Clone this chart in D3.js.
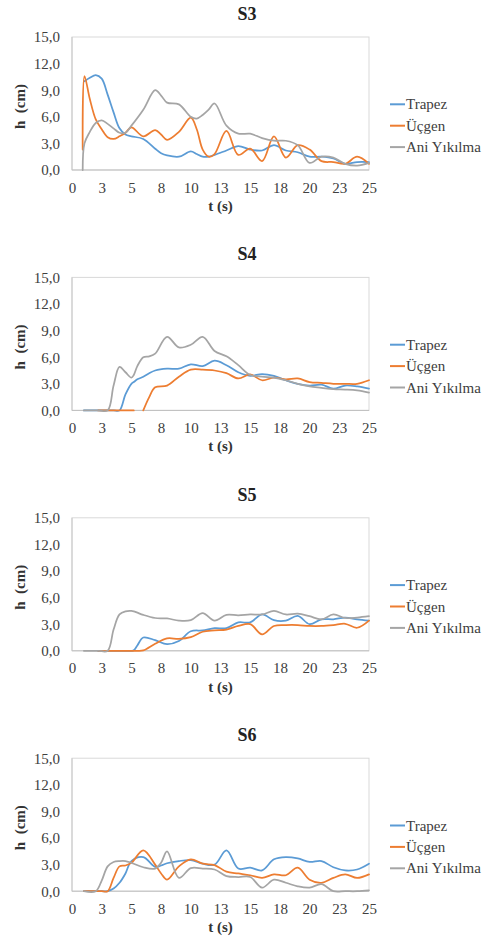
<!DOCTYPE html>
<html>
<head>
<meta charset="utf-8">
<script src="https://cdn.jsdelivr.net/npm/d3@7"></script>
<style>
  body { margin: 0; background: #fff; }
  svg { display: block; }
</style>
</head>
<body>
<div id="chart"></div>
<script>
// series names (legend)
const seriesNames = ["Trapez", "Üçgen", "Ani Yıkılma"];
const panelTitles = ["S3", "S4", "S5", "S6"];
const yTicks = [0, 3, 6, 9, 12, 15];
const xTicks = [0, 2.5, 5, 7.5, 10, 12.5, 15, 17.5, 20, 22.5, 25];

// S3
const timeS3 = [0.9, 1.05, 1.5, 2, 2.5, 3, 3.5, 4, 4.5, 5, 6, 7, 7.5, 8, 9, 10, 10.5, 11, 11.5, 12, 13, 14, 15, 16, 17, 18, 19, 20, 21, 22, 23, 24, 25];
const trapezS3 = [null, 10.0, 10.4, 10.7, 10.3, 8.5, 6.5, 4.7, 4.0, 3.8, 3.5, 2.4, 1.9, 1.65, 1.5, 2.1, 1.8, 1.5, 1.5, 1.7, 2.2, 2.7, 2.3, 2.2, 2.8, 2.2, 2.0, 1.5, 1.5, 1.3, 0.7, 0.9, 0.9];
const ucgenS3 = [2.3, 10.6, 8.0, 5.7, 4.6, 3.7, 3.5, 3.8, 4.2, 4.8, 3.8, 4.5, 4.0, 3.4, 4.3, 5.9, 4.6, 2.3, 1.5, 1.8, 4.4, 1.7, 2.4, 1.0, 3.8, 1.4, 2.8, 2.3, 1.0, 0.9, 0.7, 1.5, 0.7];
const aniS3 = [0, 3.0, 4.3, 5.3, 5.6, 5.2, 4.7, 4.2, 4.2, 5.0, 6.8, 9.0, 8.4, 7.6, 7.4, 6.0, 5.8, 6.2, 6.8, 7.5, 5.0, 4.1, 4.1, 3.6, 3.3, 3.3, 2.8, 0.8, 1.5, 1.4, 0.7, 0.5, 0.8];

// S4
const timeS4 = [1, 2.2, 3, 3.5, 4, 4.5, 5, 5.2, 5.5, 6, 6.5, 7, 8, 9, 10, 11, 12, 13, 14, 15, 16, 17, 18, 19, 20, 21, 22, 23, 24, 25];
const trapezS4 = [0, 0, 0, 0, 0, 1.8, 3.0, 3.2, 3.5, 3.8, 4.2, 4.5, 4.7, 4.7, 5.2, 5.0, 5.6, 5.1, 4.3, 3.9, 4.1, 3.9, 3.4, 3.0, 2.8, 2.9, 2.45, 2.8, 2.7, 2.45];
const ucgenS4 = [null, 0, 0, 0, 0, 0, 0, 0, null, 0, 1.5, 2.6, 2.8, 3.8, 4.6, 4.6, 4.5, 4.2, 3.6, 4.05, 3.4, 3.7, 3.5, 3.6, 3.2, 3.1, 3.0, 3.0, 3.0, 3.4];
const aniS4 = [0, 0, 0, 2.8, 4.9, 4.3, 3.7, 4.0, 5.0, 6.0, 6.1, 6.4, 8.3, 7.1, 7.4, 8.3, 6.7, 6.1, 5.1, 4.0, 3.8, 3.7, 3.4, 3.0, 2.7, 2.55, 2.4, 2.35, 2.25, 2.0];

// S5
const timeS5 = [1, 2.2, 3, 3.5, 4, 4.5, 5, 5.2, 5.5, 6, 7, 8, 9, 10, 11, 12, 13, 14, 15, 16, 17, 18, 19, 20, 21, 22, 23, 24, 25];
const trapezS5 = [null, 0, 0, 0, 0, 0, 0, 0.05, 0.6, 1.5, 1.2, 0.75, 1.1, 2.2, 2.3, 2.55, 2.55, 3.2, 3.2, 4.1, 3.45, 3.4, 3.95, 3.0, 3.55, 3.55, 3.75, 3.55, 3.4];
const ucgenS5 = [null, 0, 0, 0, 0, 0, 0, 0, 0, 0.05, 0.8, 1.4, 1.35, 1.55, 2.15, 2.3, 2.4, 2.8, 3.0, 1.85, 2.8, 2.9, 2.9, 2.8, 2.8, 2.9, 3.05, 2.6, 3.4];
const aniS5 = [0, 0, 0, 2.4, 4.1, 4.45, 4.5, 4.45, 4.3, 4.05, 3.7, 3.65, 3.4, 3.45, 4.25, 3.4, 4.05, 4.0, 4.1, 4.1, 4.5, 4.1, 4.2, 3.9, 3.55, 4.1, 3.7, 3.75, 3.9];

// S6
const timeS6 = [1, 2, 2.5, 3, 3.5, 4, 4.5, 5, 6, 7, 7.5, 8, 9, 10, 11, 12, 13, 14, 15, 16, 17, 18, 19, 20, 21, 22, 23, 24, 25];
const trapezS6 = [0, 0, 0, 0, 0.3, 0.95, 2.0, 3.4, 3.85, 2.75, 2.9, 3.15, 3.4, 3.5, 3.1, 3.0, 4.6, 2.55, 2.65, 2.35, 3.6, 3.85, 3.7, 3.3, 3.4, 2.7, 2.35, 2.45, 3.1];
const ucgenS6 = [0, 0, 0, 0, 1.5, 2.8, 2.9, 3.2, 4.6, 3.0, 2.0, 1.3, 2.8, 3.6, 3.1, 2.95, 2.2, 2.0, 1.8, 1.5, 1.9, 1.8, 2.65, 1.3, 0.95, 1.5, 1.9, 1.5, 1.9];
const aniS6 = [0, 0, 1.2, 2.8, 3.3, 3.4, 3.4, 3.2, 2.7, 2.55, 3.2, 4.5, 1.5, 2.6, 2.55, 2.45, 1.7, 1.6, 1.6, 0.4, 1.3, 0.95, 0.55, 0.4, 0.8, 0, 0, 0, 0.1];

const colors = ["#5b9bd5", "#ed7d31", "#a5a5a5"];

const panels = [
    {title: panelTitles[0], time: timeS3, series: [trapezS3, ucgenS3, aniS3]},
    {title: panelTitles[1], time: timeS4, series: [trapezS4, ucgenS4, aniS4]},
    {title: panelTitles[2], time: timeS5, series: [trapezS5, ucgenS5, aniS5]},
    {title: panelTitles[3], time: timeS6, series: [trapezS6, ucgenS6, aniS6]}
];

const W = 494, H = 940;
const left = 72, right = 369, plotH = 133;
const font = "Liberation Serif";
const comma = d3.formatLocale({decimal: ",", thousands: ".", grouping: [3], currency: ["", ""]}).format(".1f");

const svg = d3.select('#chart').append('svg').attr('width', W).attr('height', H);

const x = d3.scaleLinear().domain([0, 25]).range([left, right]);

panels.forEach((p, i) => {
    let top = 37 + i * 240.4;
    let y = d3.scaleLinear().domain([0, 15]).range([top + plotH, top]);
    let g = svg.append('g');

    // plot frame
    g.append('rect')
    .attr('x', left).attr('y', top)
    .attr('width', right - left).attr('height', plotH)
    .attr('fill', 'none').attr('stroke', '#d9d9d9').attr('stroke-width', 1);

    g.append('line')
    .attr('x1', left).attr('x2', left).attr('y1', top).attr('y2', top + plotH)
    .attr('stroke', '#c8c8c8');

    g.append('line')
    .attr('x1', left).attr('x2', right).attr('y1', top + plotH).attr('y2', top + plotH)
    .attr('stroke', '#bfbfbf');

    // axes
    let ya = g.append('g').attr('transform', `translate(${left},0)`)
    .call(d3.axisLeft(y).tickValues(yTicks).tickSize(0).tickPadding(12).tickFormat(comma));
    ya.select('.domain').remove();

    let xa = g.append('g').attr('transform', `translate(0,${top + plotH})`)
    .call(d3.axisBottom(x).tickValues(xTicks).tickSize(0).tickPadding(12).tickFormat(d => Math.round(d)));
    xa.select('.domain').remove();

    ya.attr('font-family', font).attr('font-size', 15);
    xa.attr('font-family', font).attr('font-size', 15);
    g.selectAll('.tick text').attr('fill', '#404040');

    // titles
    g.append('text')
    .attr('x', 247).attr('y', top - 17)
    .attr('text-anchor', 'middle')
    .attr('font-family', font).attr('font-weight', 'bold').attr('font-size', '18px')
    .attr('fill', '#222')
    .text(p.title);

    g.append('text')
    .attr('x', (left + right) / 2).attr('y', top + plotH + 41)
    .attr('text-anchor', 'middle')
    .attr('font-family', font).attr('font-weight', 'bold').attr('font-size', '15px')
    .attr('fill', '#333')
    .text('t (s)');

    g.append('text')
    .attr('transform', `translate(25,${top + plotH / 2 + 3}) rotate(-90)`)
    .attr('text-anchor', 'middle')
    .attr('font-family', font).attr('font-weight', 'bold').attr('font-size', '15px')
    .attr('fill', '#333')
    .attr('xml:space', 'preserve')
    .text('h  (cm)');

    // lines
    let line = d3.line()
    .defined(d => d.v != null)
    .x(d => x(d.t))
    .y(d => y(d.v))
    .curve(d3.curveCatmullRom.alpha(0.5));

    p.series.forEach((vals, k) => {
        let pts = p.time.map((t, j) => ({t: t, v: vals[j]}));
        g.append('path')
        .datum(pts)
        .attr('d', line)
        .attr('fill', 'none')
        .attr('stroke', colors[k])
        .attr('stroke-width', 1.75)
        .attr('stroke-linejoin', 'round')
        .attr('stroke-linecap', 'round');
    });

    // legend
    seriesNames.forEach((name, k) => {
        let ly = top + 67.3 + k * 21.4;
        g.append('line')
        .attr('x1', 390).attr('x2', 405).attr('y1', ly).attr('y2', ly)
        .attr('stroke', colors[k]).attr('stroke-width', 2);
        g.append('text')
        .attr('x', 406).attr('y', ly + 5)
        .attr('font-family', font).attr('font-size', '15px').attr('fill', '#404040')
        .text(name);
    });
});
</script>
</body>
</html>
